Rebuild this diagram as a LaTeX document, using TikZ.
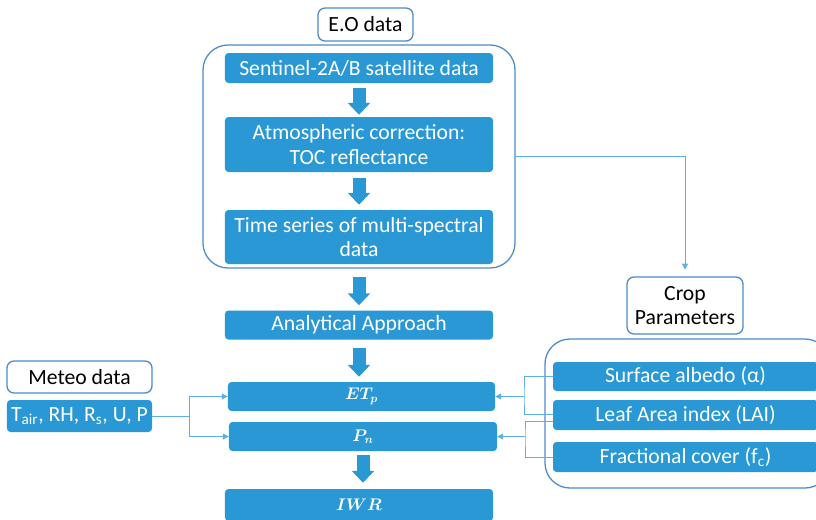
\documentclass[tikz,border=0pt]{standalone}
\usepackage{fontspec}
\setmainfont{Carlito}
\usetikzlibrary{arrows.meta}
\definecolor{boxblue}{HTML}{2998D5}
\definecolor{lineblue}{HTML}{4F8BC4}
\definecolor{connblue}{HTML}{5DB0E6}
\begin{document}
\begin{tikzpicture}[x=0.03cm, y=-0.03cm]
    \tikzstyle{bbox}=[fill=boxblue, text=white, rounded corners=3pt, inner sep=0pt, align=center, font=\fontsize{18.5}{21}\selectfont]
    \tikzstyle{mbox}=[bbox, font=\fontsize{14}{16}\selectfont\boldmath]
    \tikzstyle{lbox}=[draw=lineblue, line width=1.1pt, fill=white, text=black, rounded corners=6pt, inner sep=0pt, align=center, font=\fontsize{18.5}{21}\selectfont]
    \tikzstyle{frame}=[draw=lineblue, line width=1.1pt, rounded corners=0.75cm, inner sep=0pt]
    \tikzstyle{barr}=[boxblue, line width=0.39cm, -{Triangle[width=0.66cm, length=0.36cm]}]
    \tikzstyle{conn}=[connblue, line width=0.8pt, -{Triangle[width=0.18cm, length=0.18cm]}]

    \useasboundingbox (0,0) rectangle (816,519);

    % E.O data
    \node[frame, minimum width=9.36cm, minimum height=6.69cm] (eoframe) at (359,156.5) {};
    \node[lbox, minimum width=2.85cm, minimum height=0.99cm] (eo) at (365.5,24.5) {E.O data};
    \node[bbox, minimum width=8.04cm, minimum height=0.9cm] (sent) at (359,68) {Sentinel-2A/B satellite data};
    \node[bbox, minimum width=8.04cm, minimum height=1.65cm] (atm) at (359,144.5) {Atmospheric correction:\\TOC reflectance};
    \node[bbox, minimum width=8.04cm, minimum height=1.62cm] (ts) at (359,237) {Time series of multi-spectral\\data};

    \node[bbox, minimum width=8.04cm, minimum height=0.87cm] (ana) at (359,325) {Analytical Approach};
    \node[mbox, minimum width=8.01cm, minimum height=0.87cm] (etp) at (361.5,396.5) {$ET_p$};
    \node[mbox, minimum width=8.04cm, minimum height=0.87cm] (pn) at (363,436.5) {$P_n$};
    \node[mbox, minimum width=8.04cm, minimum height=0.96cm] (iwr) at (359,505) {$IWR$};

    % meteo
    \node[lbox, minimum width=4.35cm, minimum height=0.96cm] (meteo) at (79.5,377) {Meteo data};
    \node[bbox, minimum width=4.35cm, minimum height=0.96cm] (tair) at (79.5,416) {T\textsubscript{air}, RH, R\textsubscript{s}, U, P};

    % crop parameters
    \node[lbox, minimum width=3.48cm, minimum height=1.71cm] (crop) at (685,305.5) {Crop\\Parameters};
    \node[frame, minimum width=8.55cm, minimum height=4.47cm] (cropframe) at (687.5,413.5) {};
    \node[bbox, minimum width=7.95cm, minimum height=0.87cm] (alb) at (685.5,376.5) {Surface albedo (α)};
    \node[bbox, minimum width=7.95cm, minimum height=0.9cm] (lai) at (685.5,415) {Leaf Area index (LAI)};
    \node[bbox, minimum width=7.95cm, minimum height=0.9cm] (fc) at (685.5,457) {Fractional cover (f\textsubscript{c})};

    \foreach \a/\b/\s/\t in {sent/atm/5/2, atm/ts/6/5, ts/ana/13/5, ana/etp/8/5, pn/iwr/4/6} {
        \draw[barr, shorten <=\s*0.03cm, shorten >=\t*0.03cm] (\a.south) -- (\a.south |- \b.north);
    }

    \draw[conn, shorten >=0.2cm] (eoframe.east) -| (crop.north);

    \coordinate (mj) at (189,416);
    \draw[connblue, line width=0.8pt] (tair.east) -- (mj);
    \draw[conn] (mj) |- (etp.west);
    \draw[conn] (mj) |- (pn.west);

    \coordinate (ja) at (524,396.5);
    \coordinate (jb) at (525,436.5);
    \draw[connblue, line width=0.8pt] (alb.west) -| (ja) |- ([yshift=0.03cm]lai.west);
    \draw[connblue, line width=0.8pt] ([yshift=-0.18cm]lai.west) -| (jb) |- (fc.west);
    \draw[conn] (ja) -- (etp.east);
    \draw[conn] (jb) -- (pn.east);
\end{tikzpicture}
\end{document}
